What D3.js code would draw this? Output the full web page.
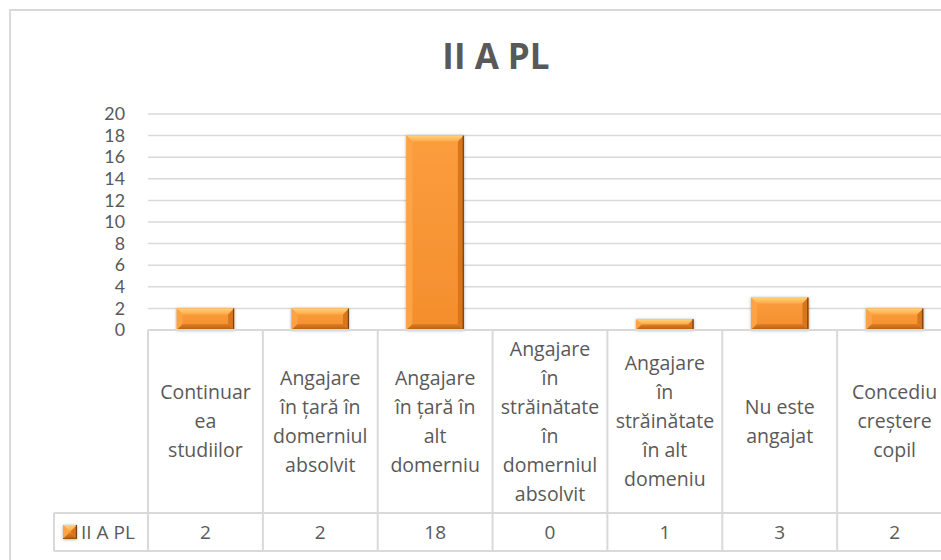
<!DOCTYPE html>
<html>
<head>
<meta charset="utf-8">
<script src="https://cdn.jsdelivr.net/npm/d3@7/dist/d3.min.js"></script>
<style>
  html, body { margin: 0; padding: 0; background: #ffffff; }
  svg { display: block; font-family: "Open Sans", "DejaVu Sans", sans-serif; }
</style>
</head>
<body>
<svg id="chart" width="941" height="560"></svg>
<script>
// Chart data
const title = "II A PL";
const seriesName = "II A PL";
const categories = [
  "Continuar\nea\nstudiilor",
  "Angajare\nîn țară în\ndomerniul\nabsolvit",
  "Angajare\nîn țară în\nalt\ndomerniu",
  "Angajare\nîn\nstrăinătate\nîn\ndomerniul\nabsolvit",
  "Angajare\nîn\nstrăinătate\nîn alt\ndomeniu",
  "Nu este\nangajat",
  "Concediu\ncreștere\ncopil"
];
const values = [2, 2, 18, 0, 1, 3, 2];
const yTicks = [0, 2, 4, 6, 8, 10, 12, 14, 16, 18, 20];

const svg = d3.select("#chart");
const textColor = "#595959";
const lineColor = "#d9d9d9";

// Layout
const plotLeft = 148, plotRight = 952;
const plotTop = 114, plotBottom = 330;
const tableBottom = 551, rowTop = 513;
const legendLeft = 54;

const x = d3.scaleBand().domain(categories).range([plotLeft, plotRight]).padding(0);
const y = d3.scaleLinear().domain([0, 20]).range([plotBottom, plotTop]);

// Gradients and shadow
const defs = svg.append("defs");
const face = defs.append("linearGradient").attr("id", "face").attr("x1", 0).attr("y1", 0).attr("x2", 0).attr("y2", 1);
face.append("stop").attr("offset", "0%").attr("stop-color", "#fb9d3e");
face.append("stop").attr("offset", "100%").attr("stop-color", "#f48e2c");
const topG = defs.append("linearGradient").attr("id", "bevTop").attr("x1", 0).attr("y1", 0).attr("x2", 0).attr("y2", 1);
topG.append("stop").attr("offset", "0%").attr("stop-color", "#ffd27a");
topG.append("stop").attr("offset", "100%").attr("stop-color", "#fdaa45");
const botG = defs.append("linearGradient").attr("id", "bevBot").attr("x1", 0).attr("y1", 0).attr("x2", 0).attr("y2", 1);
botG.append("stop").attr("offset", "0%").attr("stop-color", "#e07e22");
botG.append("stop").attr("offset", "100%").attr("stop-color", "#b45d14");
const shadow = defs.append("filter").attr("id", "shadow").attr("x", "-20%").attr("y", "-20%").attr("width", "140%").attr("height", "140%");
shadow.append("feDropShadow").attr("dx", 0).attr("dy", 0.5).attr("stdDeviation", 1.6)
  .attr("flood-color", "#000").attr("flood-opacity", 0.35);

// Outer chart border
svg.append("rect")
  .attr("x", 10).attr("y", 10).attr("width", 960).attr("height", 600)
  .attr("fill", "none").attr("stroke", lineColor).attr("stroke-width", 2);

// Title
svg.append("text")
  .attr("x", 496).attr("y", 69)
  .attr("text-anchor", "middle")
  .attr("font-size", 35).attr("font-weight", 700)
  .attr("fill", textColor)
  .text(title);

// Gridlines
svg.append("g").selectAll("line").data(yTicks.filter(t => t > 0)).join("line")
  .attr("x1", plotLeft).attr("x2", plotRight)
  .attr("y1", d => y(d)).attr("y2", d => y(d))
  .attr("stroke", lineColor).attr("stroke-width", 1.5);

// Value axis labels
const yAxis = d3.axisLeft(y).tickValues(yTicks).tickSize(0).tickPadding(0).tickFormat(d3.format("d"));
const yg = svg.append("g").attr("transform", "translate(125,0)").call(yAxis);
yg.select(".domain").remove();
yg.selectAll("text").attr("font-size", 17.8).attr("fill", textColor)
  .attr("font-family", "Lato, 'Open Sans', sans-serif");

// Beveled bar drawing
function bevelBar(g, x0, y0, w, h) {
  const x1 = x0 + w, y1 = y0 + h;
  const b = Math.min(6, h / 2, w / 2);
  const grp = g.append("g").attr("filter", "url(#shadow)");
  grp.append("rect").attr("x", x0).attr("y", y0).attr("width", w).attr("height", h).attr("fill", "url(#face)");
  const poly = pts => pts.map(p => p.join(",")).join(" ");
  grp.append("polygon").attr("points", poly([[x0, y0], [x1, y0], [x1 - b, y0 + b], [x0 + b, y0 + b]])).attr("fill", "url(#bevTop)");
  grp.append("polygon").attr("points", poly([[x0, y0], [x0 + b, y0 + b], [x0 + b, y1 - b], [x0, y1]])).attr("fill", "#fca444");
  grp.append("polygon").attr("points", poly([[x1, y0], [x1 - b, y0 + b], [x1 - b, y1 - b], [x1, y1]])).attr("fill", "#d9761f");
  grp.append("polygon").attr("points", poly([[x0, y1], [x1, y1], [x1 - b, y1 - b], [x0 + b, y1 - b]])).attr("fill", "url(#bevBot)");
  grp.append("line").attr("x1", x1 - 0.6).attr("x2", x1 - 0.6).attr("y1", y0).attr("y2", y1)
    .attr("stroke", "#7a3f0c").attr("stroke-width", 1.2);
  grp.append("line").attr("x1", x0).attr("x2", x1).attr("y1", y1 - 0.5).attr("y2", y1 - 0.5)
    .attr("stroke", "#9a5210").attr("stroke-width", 1);
}

// Bars
const bars = svg.append("g");
const bw = x.bandwidth() * 0.5;
categories.forEach((c, i) => {
  const v = values[i];
  if (v <= 0) return;
  bevelBar(bars, x(c) + (x.bandwidth() - bw) / 2, y(v), bw, y(0) - y(v));
});

// Data table: grid lines
const table = svg.append("g").attr("stroke", lineColor).attr("stroke-width", 2).attr("fill", "none");
table.append("line").attr("x1", plotLeft).attr("x2", plotRight).attr("y1", plotBottom).attr("y2", plotBottom);
table.append("line").attr("x1", legendLeft).attr("x2", plotRight).attr("y1", rowTop).attr("y2", rowTop);
table.append("line").attr("x1", legendLeft).attr("x2", plotRight).attr("y1", tableBottom).attr("y2", tableBottom);
table.append("line").attr("x1", legendLeft).attr("x2", legendLeft).attr("y1", rowTop).attr("y2", tableBottom);
categories.forEach(c => {
  table.append("line").attr("x1", x(c)).attr("x2", x(c)).attr("y1", plotBottom).attr("y2", tableBottom);
});
table.append("line").attr("x1", plotRight).attr("x2", plotRight).attr("y1", plotBottom).attr("y2", tableBottom);

// Category labels
const lineH = 29;
const catMid = (plotBottom + rowTop) / 2;
categories.forEach(c => {
  const lines = c.split("\n");
  const t = svg.append("text")
    .attr("text-anchor", "middle").attr("font-size", 19.5).attr("fill", textColor);
  lines.forEach((ln, k) => {
    t.append("tspan")
      .attr("x", x(c) + x.bandwidth() / 2)
      .attr("y", catMid + (k - (lines.length - 1) / 2) * lineH)
      .attr("dy", "0.35em")
      .text(ln);
  });
});

// Value row
const rowMid = (rowTop + tableBottom) / 2;
categories.forEach((c, i) => {
  svg.append("text")
    .attr("x", x(c) + x.bandwidth() / 2).attr("y", rowMid).attr("dy", "0.35em")
    .attr("text-anchor", "middle").attr("font-size", 19).attr("fill", textColor)
    .text(values[i]);
});

// Legend key in table
const legend = svg.append("g");
bevelBar(legend, 63, 525, 14, 14);
legend.append("text").attr("x", 81).attr("y", rowMid).attr("dy", "0.35em")
  .attr("font-size", 19).attr("fill", textColor).text(seriesName);
</script>
</body>
</html>
